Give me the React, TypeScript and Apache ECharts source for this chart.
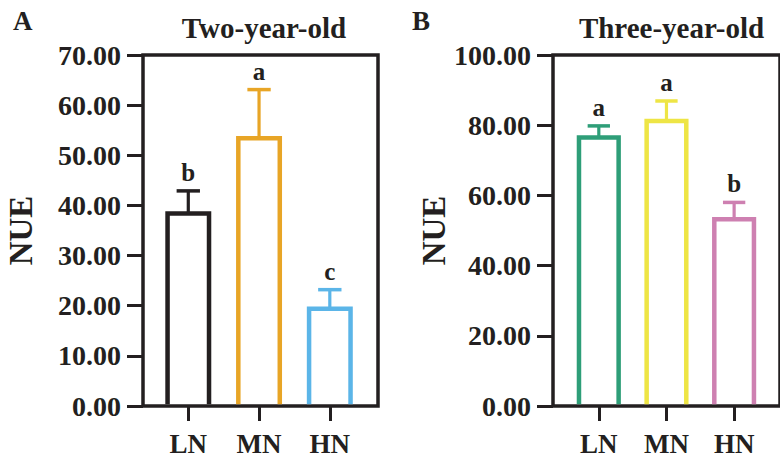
import React, { useEffect, useRef } from "react";
import * as echarts from "echarts";

const categories = ["LN", "MN", "HN"];
const categoryPositions = [0, 1, 2];

const twoYearMeans = [38.4, 53.4, 19.4];
const twoYearSD = [4.5, 9.7, 3.8];
const twoYearLetters = ["b", "a", "c"];
const twoYearColors = ["#231f20", "#e8a526", "#5bb5e8"];

const threeYearMeans = [76.5, 81.2, 53.2];
const threeYearSD = [3.3, 5.7, 4.8];
const threeYearLetters = ["a", "a", "b"];
const threeYearColors = ["#2e9e78", "#eee545", "#ce80b1"];

const twoYearTicks = { max: 70, interval: 10 };
const threeYearTicks = { max: 100, interval: 20 };

const FONT = '"Liberation Serif", "Times New Roman", serif';
const INK = "#231f20";

function makeRender(letters: string[], colors: string[]) {
  return (params: any, api: any) => {
    const i = params.dataIndex;
    const x = api.value(0);
    const mean = api.value(1);
    const sd = api.value(2);
    const base = api.coord([x, 0]);
    const top = api.coord([x, mean]);
    const err = api.coord([x, mean + sd]);
    const band = api.size([1, 0])[0];
    const half = band * 0.293;
    const capHalf = band * 0.165;
    const color = colors[i];
    const bottomY = base[1] - 1.75;
    return {
      type: "group",
      children: [
        {
          type: "polyline",
          shape: {
            points: [
              [base[0] - half, bottomY],
              [base[0] - half, top[1]],
              [base[0] + half, top[1]],
              [base[0] + half, bottomY],
            ],
          },
          style: { stroke: color, fill: "none", lineWidth: 4.5, lineJoin: "miter" },
        },
        {
          type: "line",
          shape: { x1: top[0], y1: top[1], x2: err[0], y2: err[1] },
          style: { stroke: color, lineWidth: 3.2 },
        },
        {
          type: "line",
          shape: { x1: err[0] - capHalf, y1: err[1], x2: err[0] + capHalf, y2: err[1] },
          style: { stroke: color, lineWidth: 3.5 },
        },
        {
          type: "text",
          x: err[0],
          y: err[1] - 6,
          style: {
            text: letters[i],
            font: `bold 25px ${FONT}`,
            fill: INK,
            align: "center",
            verticalAlign: "bottom",
          },
        },
      ],
    };
  };
}

function buildData(means: number[], sds: number[]) {
  return categoryPositions.map((p, i) => [p, means[i], sds[i]]);
}

export default function App() {
  const ref = useRef<HTMLDivElement>(null);

  useEffect(() => {
    if (!ref.current) return;
    const chart = echarts.init(ref.current, null, { renderer: "svg" });

    const grids = [
      { left: 143, top: 55, width: 235, height: 353 },
      { left: 553, top: 55, width: 237, height: 353 },
    ];
    const xRanges = [
      { min: -0.64, max: 2.681 },
      { min: -0.677, max: 2.678 },
    ];
    const yTicks = [twoYearTicks, threeYearTicks];

    const option: any = {
      animation: false,
      backgroundColor: "#ffffff",
      grid: grids.map((g) => ({
        ...g,
        show: true,
        borderColor: INK,
        borderWidth: 3.5,
        backgroundColor: "transparent",
      })),
      xAxis: xRanges.map((r, gi) => ({
        type: "value",
        gridIndex: gi,
        min: r.min,
        max: r.max,
        splitLine: { show: false },
        axisLine: { show: false, onZero: false },
        axisTick: {
          show: true,
          customValues: categoryPositions,
          length: 15,
          lineStyle: { color: INK, width: 3 },
        },
        axisLabel: {
          show: true,
          customValues: categoryPositions,
          formatter: (v: number) => categories[Math.round(v)] ?? "",
          fontFamily: FONT,
          fontWeight: "bold",
          fontSize: 27,
          color: INK,
          margin: 24,
        },
      })),
      yAxis: yTicks.map((t, gi) => ({
        type: "value",
        gridIndex: gi,
        min: 0,
        max: t.max,
        interval: t.interval,
        name: "NUE",
        nameLocation: "middle",
        nameGap: gi === 0 ? 106 : 101,
        nameTextStyle: {
          fontFamily: FONT,
          fontWeight: "bold",
          fontSize: 33,
          color: INK,
        },
        splitLine: { show: false },
        axisLine: { show: false, onZero: false },
        axisTick: { show: true, length: 16, lineStyle: { color: INK, width: 3 } },
        axisLabel: {
          formatter: (v: number) => v.toFixed(2),
          fontFamily: FONT,
          fontWeight: "bold",
          fontSize: 28,
          color: INK,
          margin: 22,
        },
      })),
      series: [
        {
          type: "custom",
          xAxisIndex: 0,
          yAxisIndex: 0,
          renderItem: makeRender(twoYearLetters, twoYearColors),
          data: buildData(twoYearMeans, twoYearSD),
          z: 5,
        },
        {
          type: "custom",
          xAxisIndex: 1,
          yAxisIndex: 1,
          renderItem: makeRender(threeYearLetters, threeYearColors),
          data: buildData(threeYearMeans, threeYearSD),
          z: 5,
        },
      ],
      graphic: [
        {
          type: "text",
          x: 13,
          y: 34,
          style: { text: "A", font: `bold 27px ${FONT}`, fill: INK, textAlign: "left", textVerticalAlign: "bottom" },
        },
        {
          type: "text",
          x: 412,
          y: 34,
          style: { text: "B", font: `bold 27px ${FONT}`, fill: INK, textAlign: "left", textVerticalAlign: "bottom" },
        },
        {
          type: "text",
          x: 264,
          y: 42,
          style: { text: "Two-year-old", font: `bold 29px ${FONT}`, fill: INK, textAlign: "center", textVerticalAlign: "bottom" },
        },
        {
          type: "text",
          x: 671.5,
          y: 42,
          style: { text: "Three-year-old", font: `bold 29px ${FONT}`, fill: INK, textAlign: "center", textVerticalAlign: "bottom" },
        },
      ],
    };

    chart.setOption(option);
    return () => chart.dispose();
  }, []);

  return (
    <div
      ref={ref}
      style={{ position: "fixed", left: 0, top: 0, width: 780, height: 457, background: "#fff" }}
    />
  );
}
